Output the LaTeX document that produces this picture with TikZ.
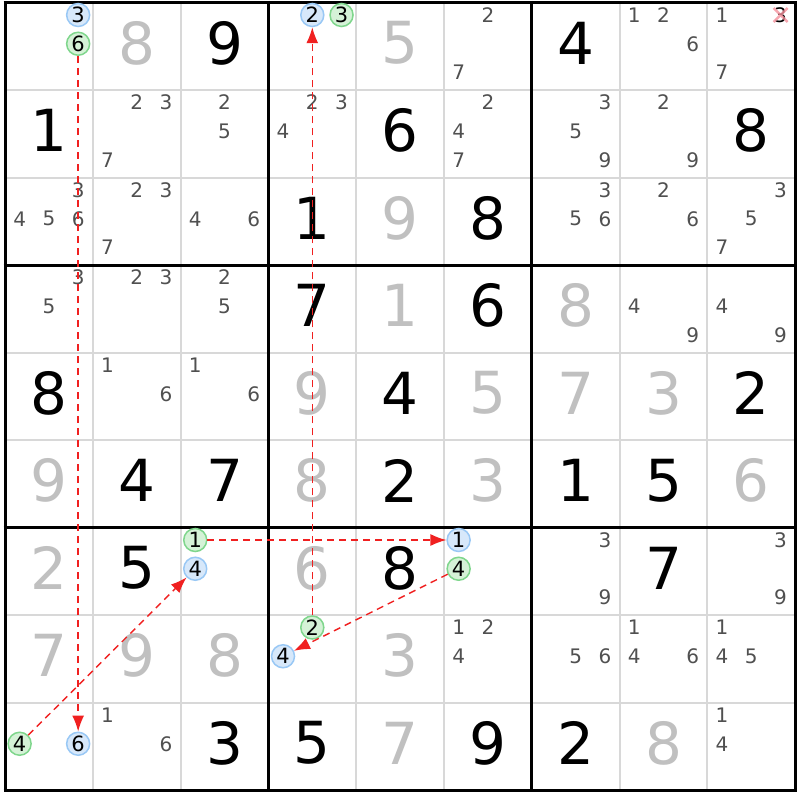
\documentclass[tikz,border=0pt]{standalone}
\usepackage{fontspec}
\setmainfont{DejaVu Sans}
\usetikzlibrary{arrows.meta}
\definecolor{givengray}{HTML}{C0C0C0}
\definecolor{candgray}{HTML}{505050}
\definecolor{thingray}{HTML}{D8D8D8}
\definecolor{blueedge}{HTML}{99C8F5}
\definecolor{bluefill}{HTML}{D7E8FA}
\definecolor{greenedge}{HTML}{7FD68C}
\definecolor{greenfill}{HTML}{D5F2D7}
\definecolor{linkred}{HTML}{F02020}
\definecolor{crossred}{HTML}{F4909C}

\begin{document}
\begin{tikzpicture}[x=1pt,y=-1pt,
		given/.style ={text=givengray, inner sep=0pt, font=\fontsize{58}{58}\selectfont},
		solved/.style ={given, text=black},
		cand/.style ={text=candgray, inner sep=0pt, font=\fontsize{20}{20}\selectfont},
		bluecand/.style ={circle, draw=blueedge, fill=bluefill, line width=1.5pt,
			text=black, inner sep=0pt, minimum size=23pt, font=\fontsize{21}{21}\selectfont},
		greencand/.style ={bluecand, draw=greenedge, fill=greenfill},
		link/.style ={draw=linkred, line width=1.4pt, dash pattern=on 7pt off 5pt,
			-{Latex[length=16pt,width=12pt]}}]
		\useasboundingbox (0,0) rectangle (800,800);
		\fill[white] (0,0) rectangle (800,800);
		% grid
		\foreach \i in {1,2,4,5,7,8} {
			\draw[thingray, line width=2pt] ({5+87.8*\i},2.5) -- ({5+87.8*\i},790);
			\draw[thingray, line width=2pt] (5,{2.5+87.5*\i}) -- (795,{2.5+87.5*\i});
		}
		\foreach \i in {0,3,6,9} {
			\draw[black, line width=3pt] ({5+87.8*\i},1) -- ({5+87.8*\i},791.5);
			\draw[black, line width=3pt] (3.5,{2.5+87.5*\i}) -- (796.5,{2.5+87.5*\i});
		}
		% givens
		\foreach \r/\c/\d in {1/2/8,1/5/5,3/5/9,4/5/1,4/7/8,5/4/9,5/6/5,5/7/7,5/8/3,
			6/1/9,6/4/8,6/6/3,6/9/6,7/1/2,7/4/6,8/1/7,8/2/9,8/3/8,8/5/3,9/5/7,9/8/8}
			\node[given] (r\r-\c) at ({5+87.8*(\c-0.5)},{2.5+87.5*(\r-0.5)-3}) {\d};
		% solved cells
		\foreach \r/\c/\d in {1/3/9,1/7/4,2/1/1,2/5/6,2/9/8,3/4/1,3/6/8,4/4/7,4/6/6,
			5/1/8,5/5/4,5/9/2,6/2/4,6/3/7,6/5/2,6/7/1,6/8/5,7/2/5,7/5/8,7/8/7,
			9/3/3,9/4/5,9/6/9,9/7/2}
			\node[solved] (r\r-\c) at ({5+87.8*(\c-0.5)},{2.5+87.5*(\r-0.5)-3}) {\d};
		% candidates
		\foreach \r/\c/\ds in {1/6/{2,7},1/8/{1,2,6},1/9/{1,7},
			2/2/{2,3,7},2/3/{2,5},2/4/{2,3,4},2/6/{2,4,7},2/7/{3,5,9},2/8/{2,9},
			3/1/{3,4,5,6},3/2/{2,3,7},3/3/{4,6},3/7/{3,5,6},3/8/{2,6},3/9/{3,5,7},
			4/1/{3,5},4/2/{2,3},4/3/{2,5},4/8/{4,9},4/9/{4,9},
			5/2/{1,6},5/3/{1,6},7/7/{3,9},7/9/{3,9},
			8/6/{1,2,4},8/7/{5,6},8/8/{1,4,6},8/9/{1,4,5},
			9/2/{1,6},9/9/{1,4}} {
			\foreach \k in \ds {
				\pgfmathsetmacro\px{5+87.8*(\c-1)+14.63*(2*mod(\k-1,3)+1)}
				\pgfmathsetmacro\py{15+87.5*(\r-1)+28.75*floor((\k-1)/3)}
				\node[cand] (r\r-\c-\k) at (\px,\py) {\k};
			}
		}
		% eliminated candidate
		\node[cand, text=black] (r1-9-3) at ({5+87.8*8+14.63*5},15) {3};
		\draw[crossred, line width=2.5pt, opacity=0.8]
			([shift={(-7,-7)}]r1-9-3.center) -- ([shift={(7,7)}]r1-9-3.center)
			([shift={(-7,7)}]r1-9-3.center) -- ([shift={(7,-7)}]r1-9-3.center);
		% chain candidates
		\foreach \r/\c/\k/\s in {1/1/3/bluecand,1/1/6/greencand,1/4/2/bluecand,1/4/3/greencand,
			7/3/1/greencand,7/3/4/bluecand,7/6/1/bluecand,7/6/4/greencand,
			8/4/2/greencand,8/4/4/bluecand,9/1/4/greencand,9/1/6/bluecand} {
			\pgfmathsetmacro\px{5+87.8*(\c-1)+14.63*(2*mod(\k-1,3)+1)}
			\pgfmathsetmacro\py{15+87.5*(\r-1)+28.75*floor((\k-1)/3)}
			\node[\s] (r\r-\c-\k) at (\px,\py) {\k};
		}
		\path (r1-1-6) edge[link] (r9-1-6); % 6 down column 1
		\path (r9-1-4) edge[link] (r7-3-4); % 4 in box 7
		\path (r7-3-1) edge[link] (r7-6-1); % 1 along row 7
		\path (r7-6-4) edge[link] (r8-4-4); % 4 along box
		\path (r8-4-2) edge[link] (r1-4-2); % 2 up column 4
\end{tikzpicture}
\end{document}
